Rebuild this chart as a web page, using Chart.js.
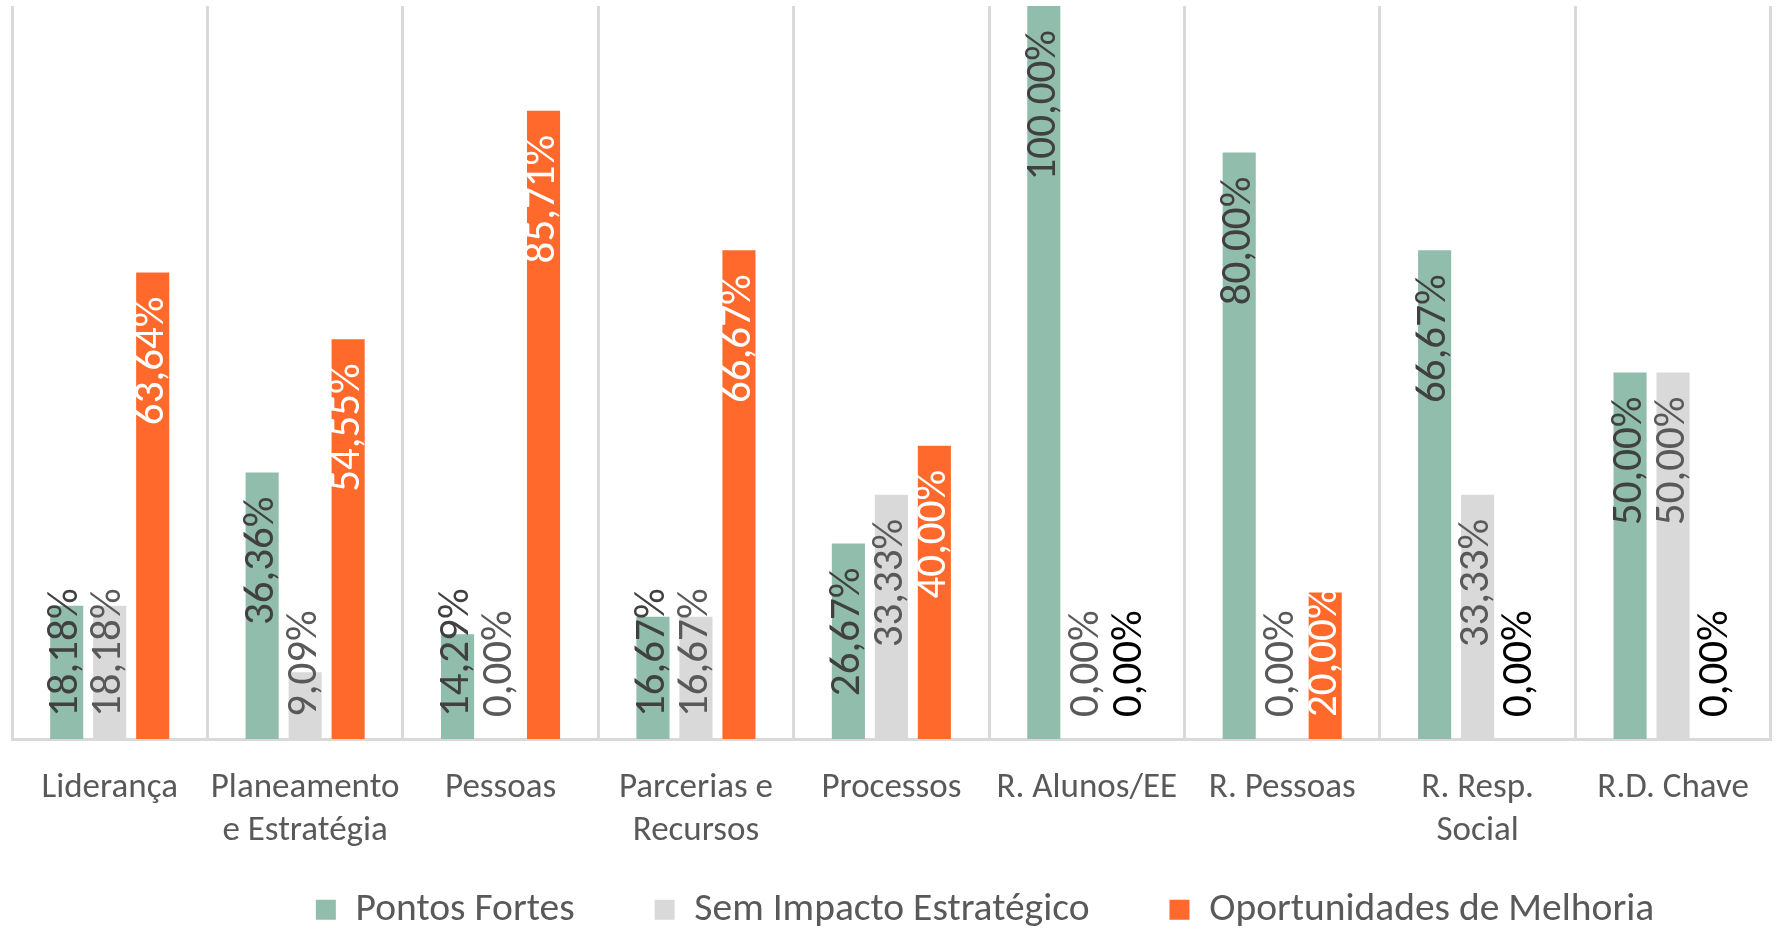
<!DOCTYPE html>
<html>
<head>
<meta charset="utf-8">
<script src="https://cdn.jsdelivr.net/npm/chart.js@4.4.1/dist/chart.umd.min.js"></script>
<style>
  html, body { margin: 0; padding: 0; background: #fff; }
  #wrap { width: 1777px; height: 930px; position: relative; }
</style>
</head>
<body>
<div id="wrap"><canvas id="chart"></canvas></div>
<script>
const categories = ['Liderança', ['Planeamento', 'e Estratégia'], 'Pessoas', ['Parcerias e', 'Recursos'], 'Processos', 'R. Alunos/EE', 'R. Pessoas', ['R. Resp.', 'Social'], 'R.D. Chave'];
const seriesNames = ['Pontos Fortes', 'Sem Impacto Estratégico', 'Oportunidades de Melhoria'];
const pontosFortes = [18.18, 36.36, 14.29, 16.67, 26.67, 100, 80, 66.67, 50];
const semImpacto = [18.18, 9.09, 0, 16.67, 33.33, 0, 0, 33.33, 50];
const oportunidades = [63.64, 54.55, 85.71, 66.67, 40, 0, 20, 0, 0];

const seriesColors = ['#91BDAD', '#D9D9D9', '#FF6A2C'];
const labelColors = ['#404040', '#595959', '#FFFFFF'];
const FONT = 'Carlito, "Liberation Sans Narrow", "Open Sans", sans-serif';

// value labels, rotated, inside end (pushed up from the base when the bar is short)
const barLabels = {
    id: 'barLabels',
    afterDatasetsDraw(chart) {
        const ctx = chart.ctx;
        chart.data.datasets.forEach((ds, i) => {
            const meta = chart.getDatasetMeta(i);
            meta.data.forEach((bar, j) => {
                const v = ds.data[j];
                const txt = v.toFixed(2).replace('.', ',') + '%';
                const zeroOrange = v === 0 && i === 2;
                ctx.save();
                ctx.font = '43px ' + FONT;
                const w = ctx.measureText(txt).width;
                let top = bar.y + 24;
                if (top + w > bar.base - 22) top = bar.base - 22 - w;
                ctx.translate(bar.x, top + w / 2);
                ctx.rotate(-Math.PI / 2);
                ctx.fillStyle = zeroOrange ? '#000000' : labelColors[i];
                ctx.textAlign = 'center';
                ctx.textBaseline = 'middle';
                ctx.fillText(txt, 0, 0);
                ctx.restore();
            });
        });
    }
};

// legend: small box in the layout, wide item gaps, moved down and a bit right
const legendSpacing = {
    id: 'legendSpacing',
    beforeLayout(chart) {
        const legend = chart.legend;
        if (!legend || legend._fitPatched) return;
        const fit = legend.fit;
        legend.fit = function () { fit.call(this); this.height = 58; };
        legend._fitPatched = true;
    },
    afterLayout(chart) {
        const legend = chart.legend;
        const pad = legend.options.labels.padding;
        legend.top = 890 - pad;
        legend.left += 92;
        legend.right += 92;
    }
};

const ctx = document.getElementById('chart').getContext('2d');
new Chart(ctx, {
    type: 'bar',
    data: {
        labels: categories,
        datasets: [pontosFortes, semImpacto, oportunidades].map((d, i) => ({
            label: seriesNames[i],
            data: d,
            backgroundColor: seriesColors[i],
            borderWidth: 0,
            categoryPercentage: 0.66,
            barPercentage: 0.77
        }))
    },
    options: {
        responsive: true,
        maintainAspectRatio: false,
        animation: false,
        layout: { padding: { top: 6, left: 12, right: 3, bottom: 0 } },
        plugins: {
            tooltip: { enabled: false },
            legend: {
                position: 'bottom',
                labels: {
                    color: '#595959',
                    font: { family: FONT, size: 39.5 },
                    boxWidth: 20,
                    boxHeight: 20,
                    padding: 80
                }
            }
        },
        scales: {
            x: {
                grid: { color: '#D9D9D9', lineWidth: 3, drawTicks: false, offset: true },
                border: { color: '#D9D9D9', width: 3 },
                ticks: {
                    color: '#595959',
                    font: { family: FONT, size: 35, lineHeight: 1.22 },
                    padding: 28,
                    maxRotation: 0,
                    autoSkip: false
                },
                afterFit(scale) { scale.height = 133; }
            },
            y: { display: false, min: 0, max: 100 }
        }
    },
    plugins: [barLabels, legendSpacing]
});
</script>
</body>
</html>
